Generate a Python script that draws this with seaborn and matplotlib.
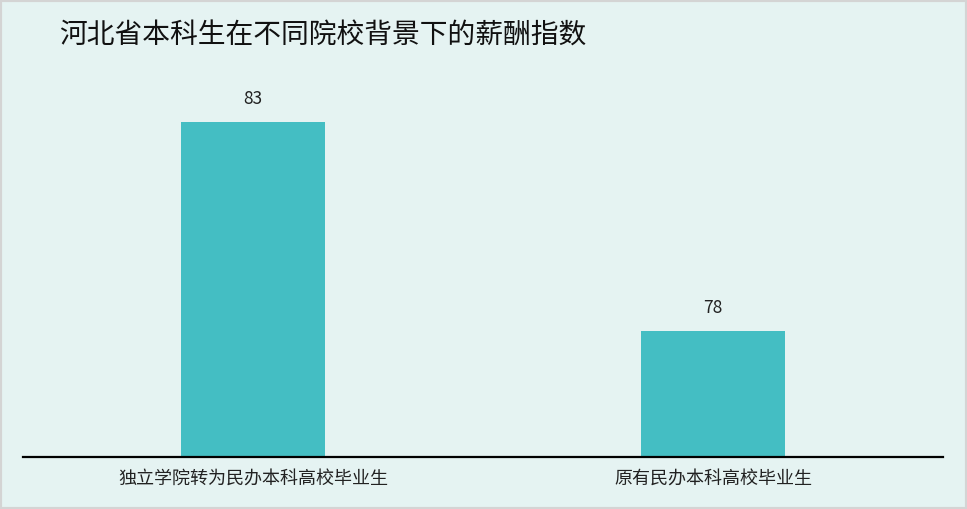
import pandas as pd
import seaborn as sns
import matplotlib.pyplot as plt
from matplotlib.patches import Rectangle

# chart data
title = "河北省本科生在不同院校背景下的薪酬指数"
categories = ["独立学院转为民办本科高校毕业生", "原有民办本科高校毕业生"]
values = [83, 78]

bg_color = "#e5f3f2"
bar_color = "#44bec3"

sns.set_theme(style="white")
plt.rcParams['font.family'] = ['Noto Sans CJK SC', 'DejaVu Sans']

df = pd.DataFrame({"category": categories, "value": values})

fig = plt.figure(figsize=(9.67, 5.09), dpi=100, facecolor=bg_color)
ax = fig.add_axes([23 / 967, 52 / 509, 920 / 967, 1 - 52 / 509 - 80 / 509])
ax.set_facecolor(bg_color)

sns.barplot(data=df, x="category", y="value", color=bar_color,
            saturation=1, width=0.313, linewidth=0, ax=ax)

ax.set_xlim(-0.5, 1.5)
ax.set_ylim(75, 84)
ax.set_xlabel("")
ax.set_ylabel("")
ax.set_yticks([])
ax.tick_params(axis="x", length=0, labelsize=13, pad=10, colors="#222222")

for s in ["top", "right", "left"]:
    ax.spines[s].set_visible(False)
ax.spines["bottom"].set_color("black")
ax.spines["bottom"].set_linewidth(1.6)

# value labels above the bars
for i, v in enumerate(values):
    ax.annotate(str(v), (i, v), xytext=(0, 10), textcoords="offset points",
                ha="center", va="bottom", fontsize=12.5, color="#222222")

fig.text(59 / 967, 1 - 36 / 509, title, fontsize=20, ha="left", va="center",
         color="#111111")

# outer border
fig.patches.append(Rectangle((0, 0), 1, 1, transform=fig.transFigure,
                             fill=False, edgecolor="#d4d4d4", linewidth=3))

fig.savefig("out.png", dpi=100, facecolor=bg_color)
